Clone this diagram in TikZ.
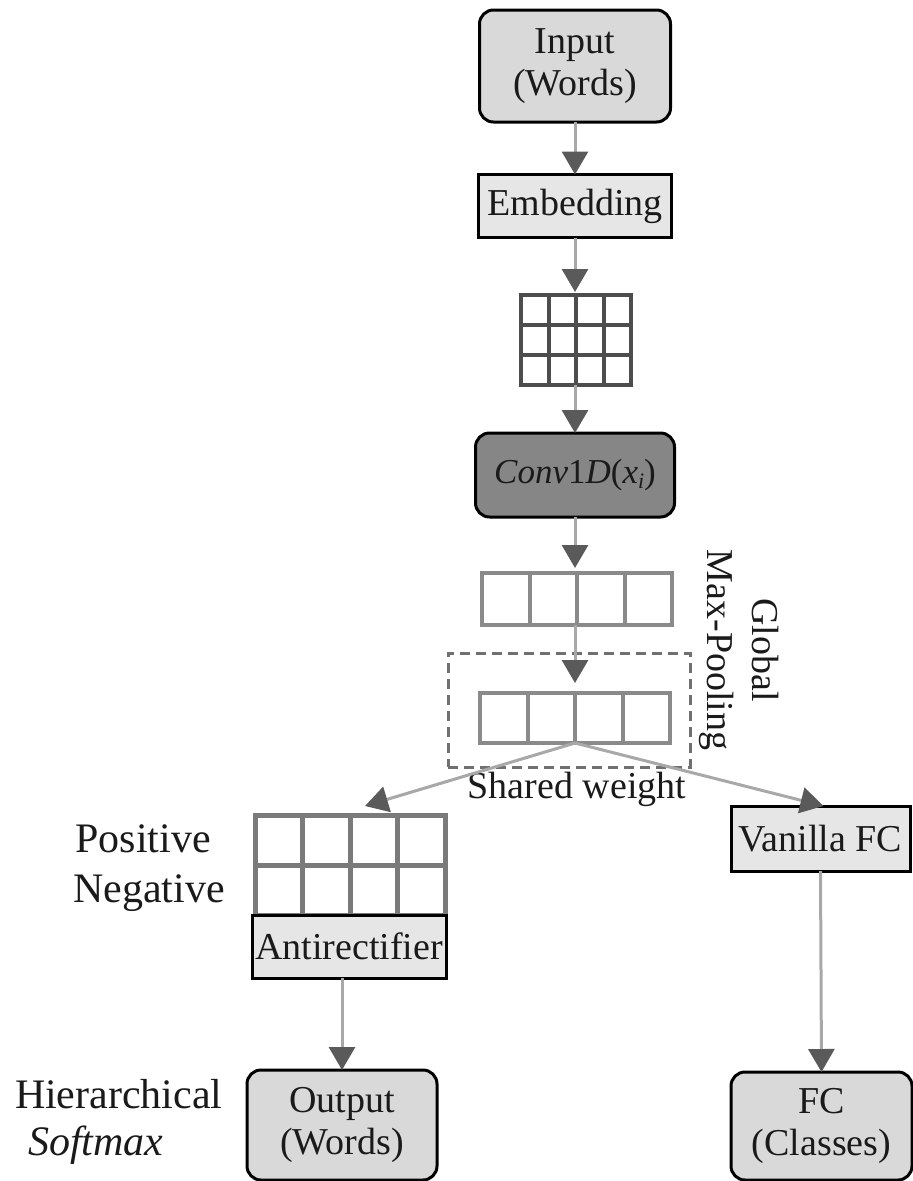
\documentclass[tikz,border=0pt]{standalone}
\usepackage{fontspec}
\setmainfont{Liberation Serif}
\usetikzlibrary{arrows.meta,calc}

\definecolor{boxfill}{HTML}{D9D9D9}
\definecolor{boxlight}{HTML}{E6E6E6}
\definecolor{convfill}{HTML}{868686}
\definecolor{linkgray}{HTML}{A8A8A8}
\definecolor{tipgray}{HTML}{5A5A5A}
\definecolor{griddark}{HTML}{4D4D4D}
\definecolor{gridmid}{HTML}{8A8A8A}
\definecolor{gridleft}{HTML}{7A7A7A}
\definecolor{dashgray}{HTML}{707070}
\definecolor{inkgray}{HTML}{1A1A1A}

\begin{document}
\begin{tikzpicture}[x=1pt,y=-1pt,
  every node/.style={inner sep=0pt, outer sep=0pt, text=inkgray},
  roundbox/.style={draw=black, line width=3pt, rounded corners=14pt, fill=boxfill,
    align=center, font={\fontsize{38}{42}\selectfont}},
  flatbox/.style={draw=black, line width=3pt, fill=boxlight, font={\fontsize{38}{44}\selectfont}},
  convbox/.style={draw=black, line width=3pt, rounded corners=14pt, fill=convfill,
    font={\fontsize{35}{40}\selectfont}},
  cellblock/.style={draw=#1, line width=4pt, fill=white},
  link/.style={draw=linkgray, line width=3pt, -{Triangle[length=23pt,width=26pt,color=tipgray]}},
  sidelabel/.style={font={\fontsize{42}{50}\selectfont}, anchor=base},
]
\useasboundingbox (0,0) rectangle (913,1181);

% ---- main column ----
\node[roundbox, minimum width=191pt, minimum height=112pt] (input) at (575,66) {Input\\(Words)};
\node[flatbox, minimum width=193pt, minimum height=63pt] (embed) at (575,206) {Embedding};

% embedding matrix (3 x 4)
\node[cellblock=griddark, minimum width=110pt, minimum height=90pt] (emat) at (576,340) {};
\foreach \k in {0.25,0.5,0.75}
  \draw[griddark, line width=4pt] ($(emat.north west)!\k!(emat.north east)$) -- ($(emat.south west)!\k!(emat.south east)$);
\foreach \k in {0.3333,0.6667}
  \draw[griddark, line width=4pt] ($(emat.north west)!\k!(emat.south west)$) -- ($(emat.north east)!\k!(emat.south east)$);

\node[convbox, minimum width=199pt, minimum height=84pt] (conv) at (575,475)
  {\textit{Conv}1\textit{D}(\textit{x}\raisebox{-0.3ex}{\fontsize{22}{24}\selectfont\textit{i}})};

% pooled vector
\node[cellblock=gridmid, minimum width=190pt, minimum height=52pt] (pool) at (577,599) {};
\foreach \k in {0.25,0.5,0.75}
  \draw[gridmid, line width=4pt] ($(pool.north west)!\k!(pool.north east)$) -- ($(pool.south west)!\k!(pool.south east)$);

% shared vector inside the dashed frame
\node[draw=dashgray, line width=3pt, dash pattern=on 10pt off 6pt, minimum width=242pt, minimum height=114pt] (frame) at (569,710) {};
\node[cellblock=gridmid, minimum width=190pt, minimum height=50pt] (shared) at (575,718) {};
\foreach \k in {0.25,0.5,0.75}
  \draw[gridmid, line width=4pt] ($(shared.north west)!\k!(shared.north east)$) -- ($(shared.south west)!\k!(shared.south east)$);

\node[font={\fontsize{38}{44}\selectfont}, anchor=base] (sharedlbl) at (577,798) {Shared weight};
\node[font={\fontsize{38}{45}\selectfont}, rotate=-90, align=center] (gmp) at (739,650) {Global\\Max-Pooling};

% ---- left branch ----
\node[cellblock=gridleft, line width=5pt, minimum width=190pt, minimum height=100pt] (negmat) at (350,865) {};
\foreach \k in {0.25,0.5,0.75}
  \draw[gridleft, line width=5pt] ($(negmat.north west)!\k!(negmat.north east)$) -- ($(negmat.south west)!\k!(negmat.south east)$);
\draw[gridleft, line width=5pt] (negmat.west) -- (negmat.east);
\node[flatbox, minimum width=194pt, minimum height=63pt] (antirect) at (349,946.5) {Antirectifier};
\node[roundbox, minimum width=190pt, minimum height=110pt] (output) at (342,1125) {Output\\(Words)};

\node[sidelabel] (pos) at (143,852) {Positive};
\node[sidelabel] (neg) at (149,902) {Negative};
\node[sidelabel, anchor=base west] (hier) at (15,1108) {Hierarchical};
\node[sidelabel, anchor=base west] (soft) at (28,1155) {\textit{Softmax}};

% ---- right branch ----
\node[flatbox, minimum width=179pt, minimum height=65pt] (vanilla) at (820.5,838.5) {Vanilla FC};
\node[roundbox, minimum width=181pt, minimum height=108pt] (fc) at (821.5,1126) {FC\\(Classes)};

% ---- connectors ----
\draw[link] (input.south) -- (embed.north);
\draw[link] (embed.south) -- ([yshift=3pt]emat.north -| embed.south);
\draw[link] (emat.south -| conv.north) -- (conv.north);
\draw[link] (conv.south) -- ([yshift=5pt]pool.north -| conv.south);
\draw[link] (pool.south -| shared.north) -- ([yshift=10pt]shared.north);
\draw[link] (shared.south) -- ([xshift=15pt,yshift=9pt]negmat.north);
\draw[link] (shared.south) -- ([xshift=3pt]vanilla.north);
\draw[link] (antirect.south -| output.north) -- (output.north);
\draw[link] (vanilla.south) -- (fc.north);
\end{tikzpicture}
\end{document}
